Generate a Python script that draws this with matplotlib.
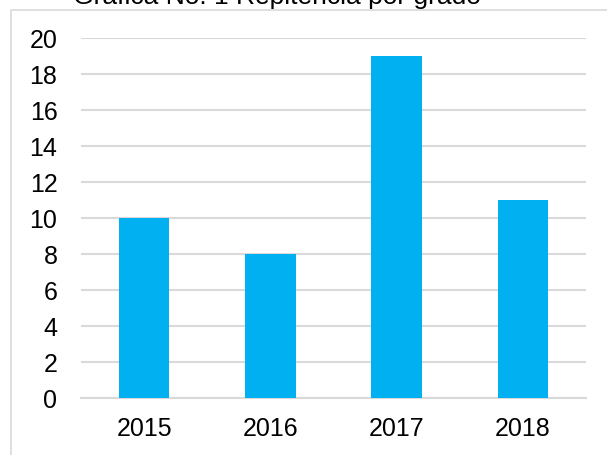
import matplotlib
matplotlib.use("Agg")
import matplotlib.pyplot as plt
from matplotlib.patches import Rectangle

categories = ["2015", "2016", "2017", "2018"]
values = [10, 8, 19, 11]
yticks = [0, 2, 4, 6, 8, 10, 12, 14, 16, 18, 20]
title = "Gráfica No. 1 Repitencia por grado"

W, H = 607, 455
plt.rcParams['font.family'] = ['Liberation Sans', 'DejaVu Sans']
fig = plt.figure(figsize=(W / 100, H / 100), dpi=100)

# outer chart border (cropped on right and bottom)
fig.patches.append(Rectangle((11 / W, -0.1), 1.2, 1 - 10 / H + 0.1,
                             transform=fig.transFigure, fill=False,
                             edgecolor='#D9D9D9', linewidth=1.2))

ax = fig.add_axes([81 / W, 1 - 398 / H, (586 - 81) / W, (398 - 38) / H])
x = range(len(categories))
ax.bar(x, values, width=0.4, color='#00B0F0', zorder=3)
ax.set_xlim(-0.5, len(categories) - 0.5)
ax.set_ylim(0, 20)
ax.set_yticks(yticks)
ax.set_xticks(list(x))
ax.set_xticklabels(categories)
ax.tick_params(axis='both', length=0, labelsize=18, colors='black')
ax.tick_params(axis='y', pad=17)
ax.tick_params(axis='x', pad=14)
ax.grid(axis='y', color='#D9D9D9', linewidth=1.5, zorder=0)
for s in ['top', 'right', 'left']:
    ax.spines[s].set_visible(False)
ax.spines['bottom'].set_color('#D9D9D9')
ax.spines['bottom'].set_linewidth(1.5)

fig.text(277 / W, 1 - 4 / H, title, ha='center', va='baseline', fontsize=19)

fig.savefig("out.png", dpi=100)
